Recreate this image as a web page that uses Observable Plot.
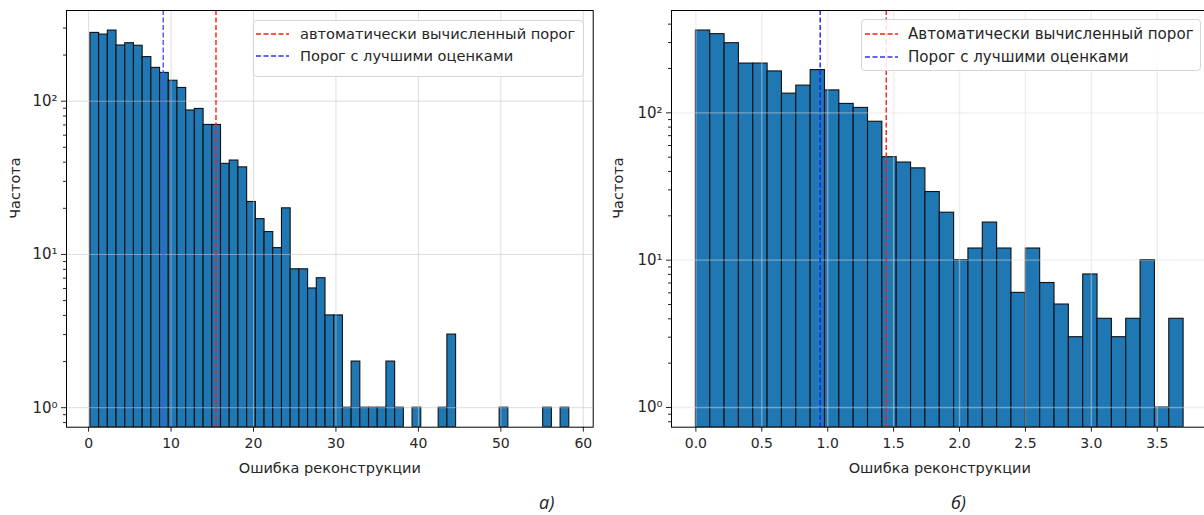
<!DOCTYPE html>
<html><head><meta charset="utf-8">
<script src="https://cdn.jsdelivr.net/npm/d3@7"></script>
<script src="https://cdn.jsdelivr.net/npm/@observablehq/plot@0.6"></script>
<style>
html,body{margin:0;padding:0;background:#fff;}
body{width:1204px;height:515px;overflow:hidden;position:relative;font-family:"DejaVu Sans",sans-serif;color:#262626;}
.panel{position:absolute;top:0;}
.panel svg{max-width:none !important;}
.legend{position:absolute;border:1px solid #d6d6d6;border-radius:4px;background:rgba(255,255,255,0.85);box-sizing:border-box;}
.row{position:absolute;left:0;height:20px;line-height:20px;white-space:nowrap;}
.row svg{position:absolute;top:0;}
.row span{position:absolute;}
.cap{position:absolute;font-family:"Open Sans",sans-serif;font-style:italic;font-size:18px;color:#222;}
</style></head>
<body>
<div id="pa" class="panel" style="left:0;width:600px"></div>
<div id="pb" class="panel" style="left:600px;width:612px"></div>
<div id="la" class="legend" style="left:253px;top:20px;width:331px;height:57px;font-size:14.6px"></div>
<div id="lb" class="legend" style="left:861px;top:19px;width:340px;height:52px;font-size:15.1px"></div>
<div class="cap" style="left:539px;top:490px">а)</div>
<div class="cap" style="left:951px;top:490px">б)</div>
<script>
// ---- data ----
const countsA = [279,272,289,231,239,230,194,165,153,136,122,87,89,70,70,39,41,37,22,17,14,11,20,8,8,6,7,4,4,1,2,1,1,1,2,1,0,1,0,0,1,3,0,0,0,0,0,1,0,0,0,0,1,0,1];
const rangeA = [0.22, 58.3];
const thresholdsA = {auto: 15.45, best: 9.05};
const xTicksA = [0,10,20,30,40,50,60];

const countsB = [362,342,297,216,216,191,135,153,195,142,115,108,87,50,46,42,29,21,10,12,18,12,6,12,7,5,3,8,4,3,4,10,1,4];
const rangeB = [0, 3.70];
const thresholdsB = {auto: 1.444, best: 0.943};
const xTicksB = [0,0.5,1,1.5,2,2.5,3,3.5];

const yMajor = [1,10,100];
const legendA = ["автоматически вычисленный порог","Порог с лучшими оценками"];
const legendB = ["Автоматически вычисленный порог","Порог с лучшими оценками"];
const xLabel = "Ошибка реконструкции";
const yLabel = "Частота";

const sup = {0:"⁰",1:"¹",2:"²",3:"³"};
function minorTicks(dom){
  const out=[];
  for(let k=-1;k<=3;k++) for(let m=2;m<=9;m++){const v=m*Math.pow(10,k); if(v>=dom[0]&&v<=dom[1]) out.push(v);}
  return out;
}

function panel(o){
  const n=o.counts.length, w=(o.range[1]-o.range[0])/n;
  const bins=o.counts.map((c,i)=>({x1:o.range[0]+i*w,x2:o.range[0]+(i+1)*w,y1:o.yDomain[0],c})).filter(d=>d.c>0);
  const minor=minorTicks(o.yDomain);
  return Plot.plot({
    width:o.width, height:485, marginTop:10, marginBottom:58.3, marginLeft:o.marginLeft, marginRight:o.marginRight,
    x:{domain:o.xDomain, label:null},
    y:{type:"log", domain:o.yDomain, label:null},
    style:{fontFamily:"DejaVu Sans", fontSize:"14px", color:"#262626", overflow:"visible", background:"transparent", maxWidth:"none"},
    marks:[
      Plot.rectY(bins,{x1:"x1",x2:"x2",y1:"y1",y2:"c",fill:"#1f77b4",stroke:"#111",strokeWidth:1.1,inset:0,clip:true}),
      Plot.gridX(o.xTicks,{stroke:o.gridColor,strokeOpacity:o.gridOpacity,strokeWidth:o.gridWidth}),
      Plot.gridY(yMajor,{stroke:o.gridColor,strokeOpacity:o.gridOpacity,strokeWidth:o.gridWidth}),
      Plot.ruleX([o.thr.auto],{stroke:"#ff1a1a",strokeWidth:1.4,strokeDasharray:"5,2.5"}),
      Plot.ruleX([o.thr.best],{stroke:o.blue,strokeWidth:1.4,strokeDasharray:"5,2.5"}),
      Plot.axisX(o.xTicks,{tickSize:5,tickPadding:6,tickFormat:o.xFormat,label:null,fontSize:14}),
      Plot.axisY(yMajor,{tickSize:5,tickPadding:4,tickFormat:d=>"10"+sup[Math.round(Math.log10(d))],label:null,fontSize:15}),
      Plot.axisY(minor,{tickSize:3,tickFormat:()=>"",label:null}),
      Plot.frame({stroke:"#000",strokeWidth:1}),
      Plot.text([xLabel],{frameAnchor:"bottom",dy:41,lineAnchor:"middle",fontSize:14.5,fill:"#262626"}),
      Plot.text([yLabel],{frameAnchor:"left",dx:o.yLabelDx,rotate:-90,fontSize:14.5,fill:"#262626"})
    ]
  });
}

document.getElementById("pa").append(panel({
  counts:countsA, range:rangeA, thr:thresholdsA, xTicks:xTicksA, xFormat:d=>String(d),
  xDomain:[-2.68,61.2], yDomain:[0.746,390.7], width:600, marginLeft:66, marginRight:7.3,
  gridColor:"#c4c4c4", gridOpacity:0.65, gridWidth:0.9, blue:"#5050ff", yLabelDx:-51
}));
document.getElementById("pb").append(panel({
  counts:countsB, range:rangeB, thr:thresholdsB, xTicks:xTicksB, xFormat:d3.format(".1f"),
  xDomain:[-0.185,3.885], yDomain:[0.735,495], width:612, marginLeft:71, marginRight:4.5,
  gridColor:"#dcdcdc", gridOpacity:0.45, gridWidth:1.4, blue:"#1a1aff", yLabelDx:-53
}));

function legend(id, labels, rows, sampleX, textX){
  const el=document.getElementById(id);
  const colors=["#ff1a1a","#3030ff"];
  labels.forEach((t,i)=>{
    const r=document.createElement("div"); r.className="row"; r.style.top=(rows[i]-10)+"px"; r.style.width="100%";
    r.innerHTML=`<svg width="40" height="20" style="left:${sampleX[0]}px"><line x1="0" x2="${sampleX[1]-sampleX[0]}" y1="10" y2="10" stroke="${colors[i]}" stroke-width="1.5" stroke-dasharray="5,2.5"/></svg><span style="left:${textX}px">${t}</span>`;
    el.append(r);
  });
}
legend("la", legendA, [13,35], [2,35], 46);
legend("lb", legendB, [14,36.5], [3,36], 46);
</script>
</body></html>
